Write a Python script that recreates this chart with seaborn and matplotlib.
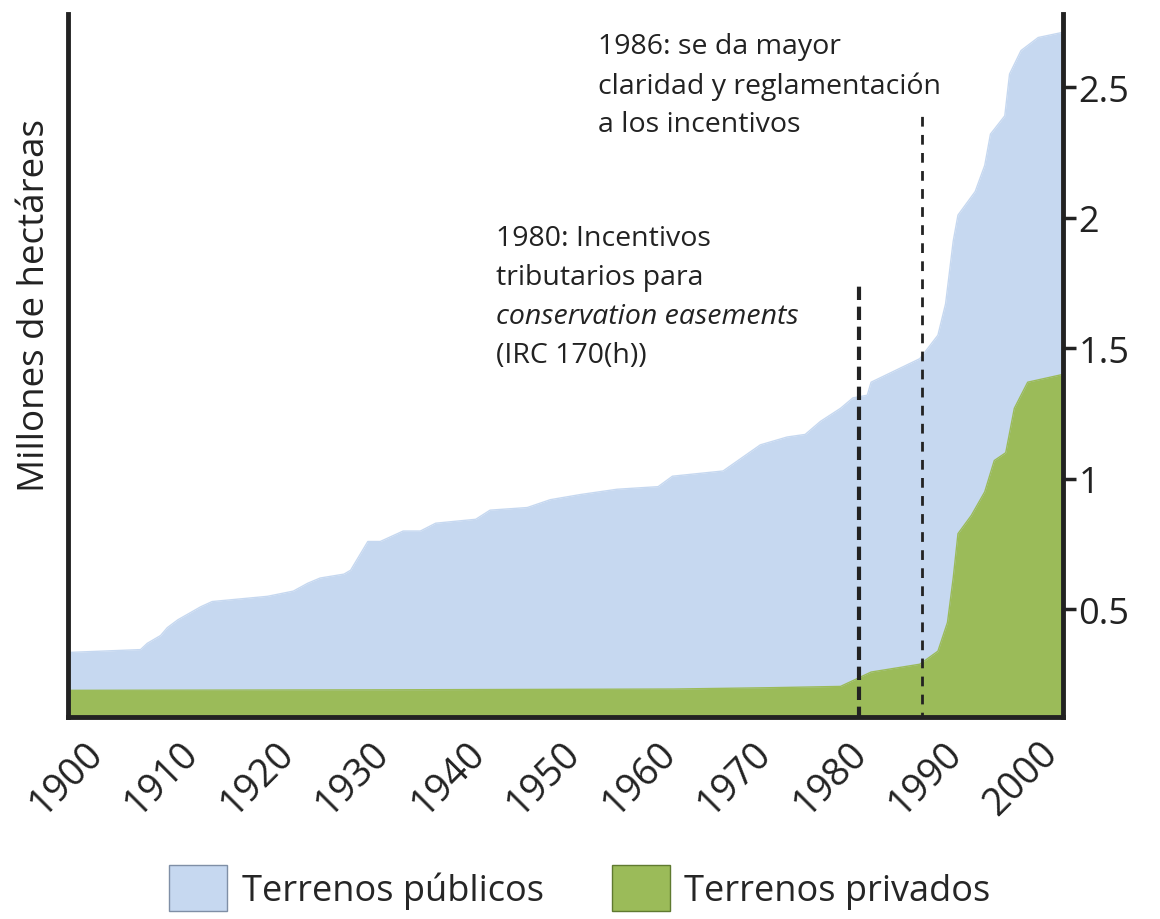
import matplotlib
matplotlib.use("Agg")
import matplotlib.pyplot as plt
import matplotlib.transforms as mtransforms
from matplotlib.patches import Patch
import seaborn as sns

# upper edge of the stack (públicos sobre privados), millones de ha
anios_pub = [1896.6, 1904.2, 1904.9, 1906.3, 1907.0, 1908.1, 1910.5, 1911.7, 1917.5,
             1920.2, 1921.7, 1923.0, 1925.5, 1926.2, 1928.0, 1929.3, 1931.7, 1933.5,
             1935.1, 1939.3, 1940.8, 1944.7, 1947.1, 1950.3, 1954.1, 1958.4, 1959.9,
             1965.2, 1969.1, 1971.9, 1973.8, 1975.4, 1977.5, 1978.8, 1980.3, 1980.7,
             1985.8, 1987.7, 1988.5, 1989.3, 1989.8, 1991.6, 1992.6, 1993.2, 1994.7,
             1995.2, 1996.4, 1998.2, 2000.8]
total = [0.335, 0.346, 0.37, 0.40, 0.43, 0.46, 0.51, 0.53, 0.55,
         0.57, 0.60, 0.62, 0.635, 0.65, 0.76, 0.76, 0.80, 0.80,
         0.83, 0.845, 0.88, 0.89, 0.92, 0.94, 0.96, 0.97, 1.01,
         1.03, 1.13, 1.16, 1.17, 1.22, 1.27, 1.31, 1.32, 1.37,
         1.46, 1.55, 1.67, 1.91, 2.01, 2.10, 2.20, 2.32, 2.39,
         2.55, 2.64, 2.69, 2.71]

anios_priv = [1896.6, 1930.0, 1960.0, 1970.0, 1977.5, 1980.7, 1985.8, 1987.7, 1988.7,
              1989.3, 1989.8, 1991.2, 1992.6, 1993.6, 1994.8, 1995.7, 1997.1, 2000.8]
privados = [0.19, 0.192, 0.195, 0.20, 0.205, 0.26, 0.29, 0.34, 0.45,
            0.62, 0.79, 0.86, 0.95, 1.07, 1.10, 1.27, 1.37, 1.40]

decadas = [1900, 1910, 1920, 1930, 1940, 1950, 1960, 1970, 1980, 1990, 2000]
y_ticks = [0.5, 1, 1.5, 2, 2.5]

# policy events: year, top of dashed line
eventos = [1980, 1986]
eventos_alto = [1.76, 2.39]

AZUL = "#C6D8F0"
VERDE = "#9BBB59"
NEGRO = "#222222"

sns.set_theme(style="white")
plt.rcParams["font.family"] = ["Open Sans", "DejaVu Sans"]

fig = plt.figure(figsize=(11.6, 9.2), dpi=100)
ax = fig.add_axes([0.0586, 0.2196, 0.8578, 0.7641])

ax.fill_between(anios_pub, total, 0, color=AZUL, lw=0)
ax.fill_between(anios_priv, privados, 0, color=VERDE, lw=0)
sns.lineplot(x=anios_pub, y=total, ax=ax, color=AZUL, lw=1)
sns.lineplot(x=anios_priv, y=privados, ax=ax, color=VERDE, lw=1)

ax.vlines(eventos[0] - 0.6, 0, eventos_alto[0], colors=NEGRO, lw=3, linestyles=(0, (3.2, 1.6)))
ax.vlines(eventos[1], 0, eventos_alto[1], colors=NEGRO, lw=2, linestyles=(0, (3.5, 3)))

ax.set_xlim(1896.6, 2000.8)
ax.set_ylim(0.088, 2.78)

for s in ["left", "right", "bottom"]:
    ax.spines[s].set_visible(True)
    ax.spines[s].set_linewidth(3.5)
    ax.spines[s].set_color(NEGRO)
ax.spines["top"].set_visible(False)

ax.yaxis.tick_right()
ax.set_yticks(y_ticks)
ax.set_yticklabels(["0.5", "1", "1.5", "2", "2.5"])
ax.tick_params(axis="y", right=True, left=False, length=9, width=2.5, color=NEGRO,
               labelsize=26, pad=2, labelcolor=NEGRO)

ax.set_xticks(decadas)
ax.set_xticklabels([str(d) for d in decadas], rotation=45, ha="right")
ax.tick_params(axis="x", bottom=False, length=0, labelsize=27.5, pad=12, labelcolor=NEGRO)
off = mtransforms.ScaledTranslation(0.10, 0, fig.dpi_scale_trans)
for lab in ax.get_xticklabels():
    lab.set_transform(lab.get_transform() + off)

ax.set_xlabel("")
ax.set_ylabel("")
fig.text(0.030, 0.668, "Millones de hectáreas", rotation=90, ha="center", va="center",
         fontsize=26.5, color=NEGRO)

# annotations
ax.text(1952.1, 2.71, "1986: se da mayor\nclaridad y reglamentación\na los incentivos",
        fontsize=20.5, color=NEGRO, va="top", ha="left", linespacing=1.5)
lineas_80 = ["1980: Incentivos", "tributarios para", "conservation easements", "(IRC 170(h))"]
for i, t in enumerate(lineas_80):
    ax.text(1941.4, 1.975 - i * 0.149, t, fontsize=20.5, color=NEGRO, va="top", ha="left",
            style="italic" if i == 2 else "normal")

handles = [Patch(facecolor=AZUL, edgecolor="#7f8fa6", lw=1, label="Terrenos públicos"),
           Patch(facecolor=VERDE, edgecolor="#5f7a30", lw=1, label="Terrenos privados")]
fig.legend(handles=handles, loc="center", bbox_to_anchor=(0.5, 0.034), ncol=2,
           frameon=False, fontsize=26, handlelength=1.6, handleheight=1.6,
           handletextpad=0.4, columnspacing=1.9)

fig.savefig("out.png", dpi=100)
